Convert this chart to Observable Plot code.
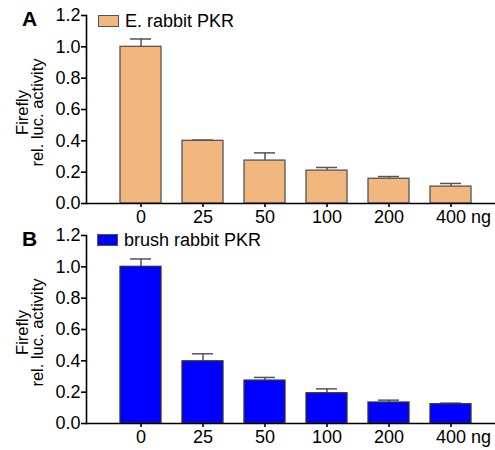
<!DOCTYPE html>
<html>
<head>
<meta charset="utf-8">
<script src="https://cdn.jsdelivr.net/npm/d3@7"></script>
<script src="https://cdn.jsdelivr.net/npm/@observablehq/plot@0.6"></script>
<style>
  html, body { margin: 0; padding: 0; background: white; }
  #wrap { position: relative; width: 495px; height: 450px; font-family: "Liberation Sans", Arial, sans-serif; }
  .panel { position: absolute; left: 0; }
  .letter { position: absolute; font-weight: bold; font-size: 21px; line-height: 1; }
  .legend { position: absolute; font-size: 18px; line-height: 1; display: flex; align-items: center; white-space: nowrap; }
  .legend .sw { display: inline-block; width: 19px; height: 10px; border: 1.2px solid #555; margin-right: 6px; }
</style>
</head>
<body>
<div id="wrap"></div>
<script>
const doses = ["0", "25", "50", "100", "200", "400"];
const tickValues = [0, 0.2, 0.4, 0.6, 0.8, 1.0, 1.2];

const seriesA = "E. rabbit PKR";
const valuesA = [1.0, 0.40, 0.274, 0.21, 0.158, 0.108];
const errTopA = [1.05, 0.405, 0.323, 0.23, 0.172, 0.128];

const seriesB = "brush rabbit PKR";
const valuesB = [1.0, 0.397, 0.274, 0.193, 0.134, 0.123];
const errTopB = [1.05, 0.445, 0.294, 0.221, 0.149, 0.13];

const colorA = "#F2B77E";
const colorB = "#0000FF";
const yLabel = "Firefly\nrel. luc. activity";

function panel(values, errTop, fill, stroke, height, marginTop, marginBottom) {
  const data = doses.map((d, i) => ({dose: d, value: values[i], err: errTop[i]}));
  return Plot.plot({
    width: 495,
    height,
    marginLeft: 86,
    marginRight: 0,
    marginTop,
    marginBottom,
    style: {fontFamily: "Liberation Sans, Arial, sans-serif", fontSize: "18px", color: "black", background: "transparent", overflow: "visible"},
    x: {domain: doses, paddingInner: 0.34, paddingOuter: 0.17, insetLeft: 22, insetRight: 13, label: null},
    y: {domain: [0, 1.2], label: null},
    marks: [
      Plot.ruleX(data, {x: "dose", y1: "value", y2: "err", stroke: "#555", strokeWidth: 1.5}),
      Plot.tickY(data, {x: "dose", y: "err", stroke: "#555", strokeWidth: 1.5, insetLeft: 10, insetRight: 10}),
      Plot.barY(data, {x: "dose", y: "value", fill, stroke, strokeWidth: 1.3}),
      Plot.axisY({ticks: tickValues, tickFormat: d3.format(".1f"), tickSize: 5, tickPadding: 1, strokeWidth: 1.6, stroke: "black", fontSize: 18, label: null}),
      Plot.axisX({tickSize: 4, tickPadding: 3, strokeWidth: 1.6, stroke: "black", fontSize: 18, label: null,
                  tickFormat: d => d === "400" ? "" : d}),
      Plot.text(["400 ng"], {x: () => "400", text: d => d, frameAnchor: "bottom", lineAnchor: "top", dy: 7, dx: 12.5, fontSize: 18, fill: "black"}),
      Plot.frame({anchor: "left", stroke: "black", strokeWidth: 1.6}),
      Plot.ruleY([0], {stroke: "black", strokeWidth: 1.6}),
      Plot.text([yLabel], {text: d => d, frameAnchor: "left", rotate: -90, textAnchor: "middle", dx: -56, dy: 3, lineAnchor: "middle", lineHeight: 0.95, fontSize: 16.5, fill: "black"})
    ]
  });
}

const wrap = document.getElementById("wrap");

const pA = panel(valuesA, errTopA, colorA, "#555", 228, 15, 25);
pA.classList.add("panel"); pA.style.top = "0px";
wrap.appendChild(pA);

const pB = panel(valuesB, errTopB, colorB, "#333", 222, 7, 27);
pB.classList.add("panel"); pB.style.top = "228px";
wrap.appendChild(pB);

function addDiv(cls, html, left, top) {
  const d = document.createElement("div");
  d.className = cls; d.innerHTML = html;
  d.style.left = left + "px"; d.style.top = top + "px";
  wrap.appendChild(d);
  return d;
}
addDiv("letter", "A", 22, 8);
addDiv("letter", "B", 22, 228);
addDiv("legend", `<span class="sw" style="background:${colorA}"></span><span>${seriesA}</span>`, 98, 12);
addDiv("legend", `<span class="sw" style="background:${colorB}"></span><span>${seriesB}</span>`, 97, 231);
</script>
</body>
</html>
